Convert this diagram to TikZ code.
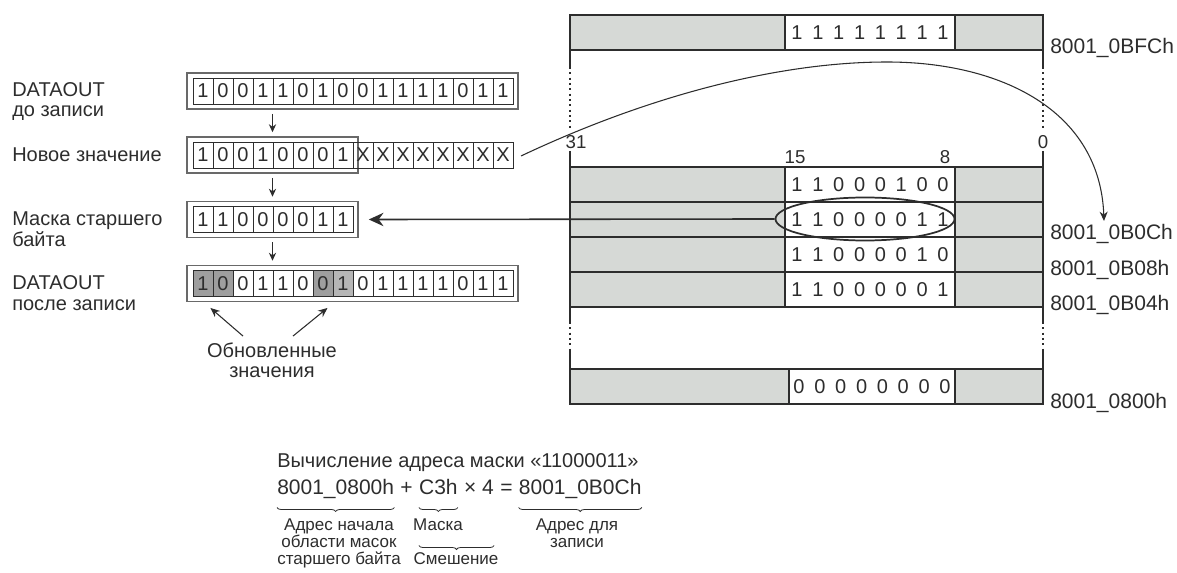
\documentclass[tikz,border=0pt]{standalone}
\usepackage{fontspec}
\setmainfont{Liberation Sans}
\usetikzlibrary{arrows.meta,shapes.geometric,decorations.pathreplacing,calc}
\definecolor{ink}{RGB}{45,45,45}
\definecolor{cellgrey}{RGB}{214,217,214}
\definecolor{hot}{RGB}{158,158,158}
\definecolor{hotb}{RGB}{182,182,182}
\definecolor{framec}{RGB}{105,105,105}
\begin{document}
\begin{tikzpicture}[x=0.75pt,y=-0.75pt,
  lbl/.style={font=\fontsize{15pt}{15pt}\selectfont, anchor=base west, inner sep=0pt, text=ink},
  lblc/.style={lbl, anchor=base},
  bit/.style={draw=ink, line width=0.7pt, minimum width=15pt, minimum height=19.5pt, inner sep=0pt, font=\fontsize{15pt}{15pt}\selectfont, text=ink},
  regframe/.style={draw=framec, line width=1.2pt, fill=white, inner sep=0pt, minimum height=27pt},
  downarr/.style={draw=ink, line width=0.8pt, -{Stealth[length=6pt,width=5.5pt]}},
  uparr/.style={draw=ink, line width=0.8pt, -{Stealth[length=7pt,width=6pt]}},
  bigarr/.style={draw=ink, line width=1.2pt, -{Stealth[length=11pt,width=10pt]}},
  curvearr/.style={draw=ink, line width=0.8pt, -{Stealth[length=7pt,width=6pt]}},
  mapline/.style={draw=ink, line width=1.1pt},
  mapdots/.style={draw=ink, line width=1.1pt, dash pattern=on 1.5pt off 2.5pt},
  memcell/.style={draw=ink, line width=1.1pt, fill=white, minimum width=127.5pt, minimum height=26.25pt, inner sep=0pt, font={\fontsize{15pt}{15pt}\selectfont\spaceskip=7.3pt\relax}, text=ink},
  collbl/.style={font=\fontsize{14pt}{14pt}\selectfont, inner sep=0pt, text=ink},
  addr/.style={font=\fontsize{15.75pt}{15.75pt}\selectfont, anchor=base west, inner sep=0pt, text=ink},
  fml/.style={font=\fontsize{15.75pt}{15.75pt}\selectfont, anchor=base west, inner sep=0pt, text=ink},
  note/.style={font=\fontsize{12.75pt}{12.75pt}\selectfont, anchor=base, inner sep=0pt, text=ink},
  brc/.style={draw=ink, line width=0.6pt, decorate, decoration={brace, mirror, amplitude=3pt}}
]
\useasboundingbox (0,0) rectangle (1177,573);

% ---------- left labels ----------
\node[lbl] (l1a) at (12,97) {DATAOUT};
\node[lbl] (l1b) at (12,117) {до записи};
\node[lbl] (l2) at (12,162) {Новое значение};
\node[lbl] (l3a) at (12,226) {Маска старшего};
\node[lbl] (l3b) at (12,246.5) {байта};
\node[lbl] (l4a) at (12,290) {DATAOUT};
\node[lbl] (l4b) at (12,310.5) {после записи};

% ---------- register frames ----------
\node[regframe, minimum width=248.25pt] (r1) at (352.5,91) {};
\node[regframe, minimum width=128.25pt] (r2) at (272.5,155) {};
\node[regframe, minimum width=128.25pt] (r3) at (272.5,219.5) {};
\node[regframe, minimum width=248.25pt] (r4) at (352.5,283.5) {};

% ---------- register cells ----------
\foreach \b [count=\i] in {1,0,0,1,1,0,1,0,0,1,1,1,1,0,1,1}
  \node[bit] (r1c\i) at (183+20*\i,91) {\b};
\foreach \b [count=\i] in {1,0,0,1,0,0,0,1,X,X,X,X,X,X,X,X}
  \node[bit] (r2c\i) at (183+20*\i,155) {\b};
\foreach \b [count=\i] in {1,1,0,0,0,0,1,1}
  \node[bit] (r3c\i) at (183+20*\i,219.5) {\b};
\foreach \b/\f [count=\i] in {1/hot,0/hot,0/white,1/white,1/white,0/white,0/hot,1/hotb,0/white,1/white,1/white,1/white,1/white,0/white,1/white,1/white}
  \node[bit, fill=\f] (r4c\i) at (183+20*\i,283.5) {\b};

% ---------- down arrows ----------
\draw[downarr] ($(r1.south -| r2.north)+(0,4)$) -- ($(r2.north)+(0,-4)$);
\draw[downarr] ($(r2.south)+(0,4)$) -- ($(r3.north)+(0,-4)$);
\draw[downarr] ($(r3.south)+(0,4)$) -- ($(r4.north -| r3.north)+(0,-4)$);

% ---------- updated values ----------
\node[lblc] (up1) at (272,358) {Обновленные};
\node[lblc] (up2) at (272,378) {значения};
\draw[uparr] ($(up1.north)+(-29,-7)$) -- ($(r4c1.south east)+(-3,11)$);
\draw[uparr] ($(up1.north)+(21,-7)$) -- ($(r4c7.south east)+(-6,11)$);

% ---------- memory map ----------
\fill[cellgrey] (570,15) rectangle (1043,50);
\draw[mapline] (570,15) rectangle (1043,50);
\node[memcell] (mt) at (870,32.5) {1 1 1 1 1 1 1 1};

\fill[cellgrey] (570,167) rectangle (1043,307);
\draw[mapline] (570,167) rectangle (1043,307);
\draw[mapline] (570,202) -- (1043,202);
\draw[mapline] (570,237) -- (1043,237);
\draw[mapline] (570,272) -- (1043,272);
\node[memcell] (m1) at (870,184.5) {1 1 0 0 0 1 0 0};
\node[memcell] (m2) at (870,219.5) {1 1 0 0 0 0 1 1};
\node[memcell] (m3) at (870,254.5) {1 1 0 0 0 0 1 0};
\node[memcell] (m4) at (870,289.5) {1 1 0 0 0 0 0 1};

\fill[cellgrey] (570,369) rectangle (1043,404);
\draw[mapline] (570,369) rectangle (1043,404);
\node[memcell, minimum width=124.5pt] (mb) at (872,386.5) {0 0 0 0 0 0 0 0};

% side lines
\foreach \x in {570,1043}{
  \draw[mapline] (\x,50) -- (\x,67);
  \draw[mapdots] (\x,67) -- (\x,131);
  \draw[mapline] (\x,151) -- (\x,167);
  \draw[mapline] (\x,307) -- (\x,322);
  \draw[mapdots] (\x,322) -- (\x,350);
  \draw[mapline] (\x,350) -- (\x,369);
}

% bit numbers
\node[collbl] (c31) at (576,142) {31};
\node[collbl] (c0) at (1043,142) {0};
\node[collbl] (c15) at (795,157) {15};
\node[collbl] (c8) at (945,157) {8};

% addresses
\node[addr] (a0) at (1050,54) {8001\_0BFCh};
\node[addr] (a1) at (1050,239.5) {8001\_0B0Ch};
\node[addr] (a2) at (1050,275.5) {8001\_0B08h};
\node[addr] (a3) at (1050,310.5) {8001\_0B04h};
\node[addr] (a4) at (1050,408.5) {8001\_0800h};

% ellipse and arrows
\node[draw=ink, line width=1.3pt, ellipse, minimum width=134.25pt, minimum height=32.25pt, inner sep=0pt] (ell) at (865,219) {};
\draw[bigarr] (ell.west) -- ([xshift=7.5pt]r3.east);

\coordinate (cs) at (521,156);
\coordinate (ce) at (1104,221);
\draw[curvearr] (cs) .. controls (650,95) and (780,62) .. (887,62) .. controls (1000,62) and (1100,110) .. (ce);

% ---------- address calculation ----------
\node[lbl] (calc) at (277,467) {Вычисление адреса маски «11000011»};
\node[fml] (f1) at (277,494.5) {8001\_0800h};
\node[fml] (fp) at (f1.base east) {\kern4.4pt+\kern4.4pt};
\node[fml] (f2) at (fp.base east) {C3h};
\node[fml] (fx) at (f2.base east) {\kern4.4pt×\kern4.4pt4};
\node[fml] (fe) at (fx.base east) {\kern4.4pt=\kern4.4pt};
\node[fml] (f3) at (fe.base east) {8001\_0B0Ch};

\draw[brc] ($(f1.base west)+(0,13)$) -- ($(f1.base east)+(0,13)$);
\draw[brc] ($(f2.base west)+(0,13)$) -- ($(f2.base east)+(0,13)$);
\draw[brc] ($(f3.base west)+(0,13)$) -- ($(f3.base east)+(0,13)$);
\draw[brc] ($(f2.base west)+(0,51)$) -- ($(fx.base east)+(0,51)$);

\node[note] (d1a) at (339,530) {Адрес начала};
\node[note] (d1b) at (339,547) {области масок};
\node[note] (d1c) at (339,564) {старшего байта};
\node[note] (d2) at (438,530) {Маска};
\node[note] (d4) at (456,564) {Смешение};
\node[note] (d3a) at (577,530) {Адрес для};
\node[note] (d3b) at (577,547) {записи};
\end{tikzpicture}
\end{document}
